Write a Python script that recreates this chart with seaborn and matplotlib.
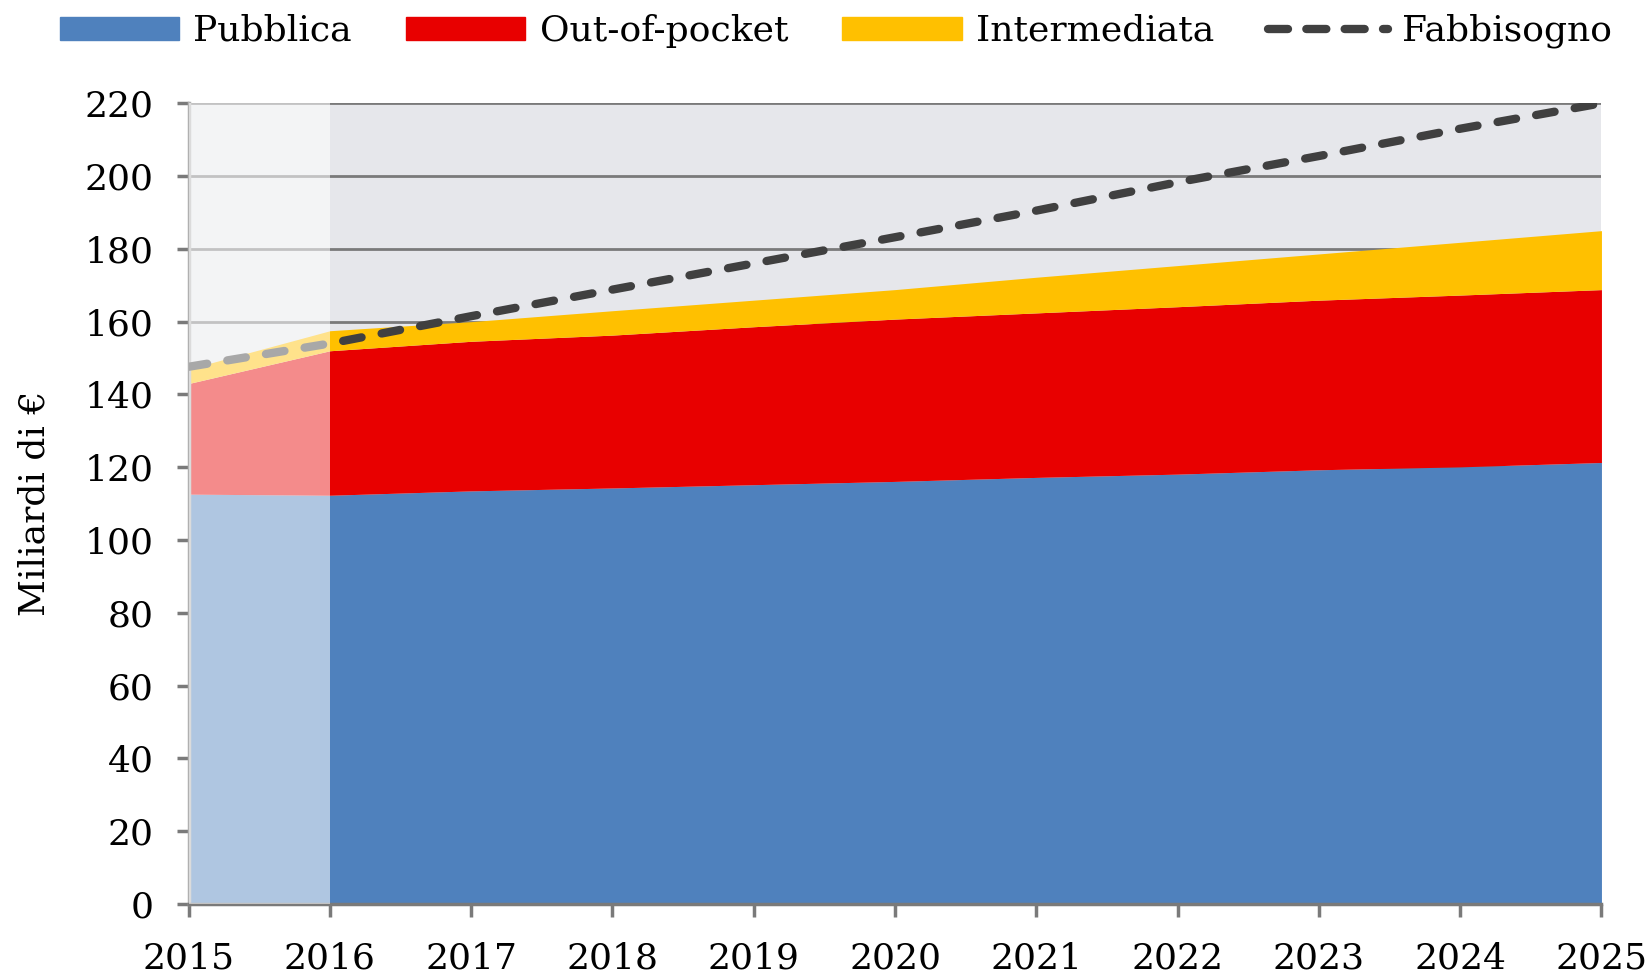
import numpy as np
import pandas as pd
import matplotlib
matplotlib.use("Agg")
import matplotlib.pyplot as plt
import seaborn as sns
from matplotlib.patches import Patch
from matplotlib.lines import Line2D

sns.set_style("white")
plt.rcParams["font.family"] = ["DejaVu Serif"]
plt.rcParams["text.color"] = "black"
plt.rcParams["axes.labelcolor"] = "black"

# Data (miliardi di euro)
years = [2015, 2016, 2017, 2018, 2019, 2020, 2021, 2022, 2023, 2024, 2025]
pubblica = [112.6, 112.3, 113.5, 114.3, 115.2, 116.1, 117.2, 118.1, 119.3, 120.1, 121.3]
out_of_pocket = [30.4, 39.7, 41.1, 42.0, 43.4, 44.6, 45.2, 46.0, 46.6, 47.2, 47.5]
intermediata = [4.0, 5.5, 5.4, 6.7, 7.3, 8.1, 9.8, 11.3, 12.7, 14.5, 16.2]
fabbisogno = [147.6, 154.0, 161.5, 168.8, 176.0, 183.2, 190.5, 198.3, 205.5, 213.0, 220.0]

df = pd.DataFrame({"anno": years, "Pubblica": pubblica, "Out-of-pocket": out_of_pocket,
                   "Intermediata": intermediata, "Fabbisogno": fabbisogno})

colors = {"Pubblica": "#4f81bd", "Out-of-pocket": "#e80000", "Intermediata": "#ffc000"}
line_color = "#404040"
grid_color = "#7a7a7a"

fig = plt.figure(figsize=(16.52, 9.76), dpi=100)
ax = fig.add_axes([0.1142, 0.0738, 0.9694 - 0.1142, 0.8942 - 0.0738])
ax.set_facecolor("#e6e7eb")

# stacked areas
base = np.zeros(len(df))
for col in ["Pubblica", "Out-of-pocket", "Intermediata"]:
    top = base + df[col].values
    ax.fill_between(df["anno"], base, top, color=colors[col], lw=0, zorder=2)
    base = top

sns.lineplot(data=df, x="anno", y="Fabbisogno", ax=ax, color=line_color, lw=6,
             dashes=False, zorder=3)
ln = ax.lines[-1]
ln.set_dashes((2.25, 2.45))
ln.set_dash_capstyle("round")

# historical years shaded
ax.axvspan(2015, 2016, color="white", alpha=0.55, lw=0, zorder=4)

ax.set_xlim(2015, 2025)
ax.set_ylim(0, 220)
ax.set_xticks(years)
ax.set_yticks(range(0, 221, 20))
ax.yaxis.grid(True, color=grid_color, lw=2)
ax.set_axisbelow(True)
for s in ["top", "right"]:
    ax.spines[s].set_visible(False)
ax.spines["left"].set_color("#b0b0b0")
ax.spines["left"].set_linewidth(2.5)
ax.spines["bottom"].set_color(grid_color)
ax.spines["bottom"].set_linewidth(2.5)
ax.tick_params(axis="both", which="major", bottom=True, left=True, length=9, width=2.5,
               color=grid_color, labelcolor="black", labelsize=26, direction="out")
ax.tick_params(axis="y", pad=16)
ax.tick_params(axis="x", pad=18)
ax.set_xlabel("")
ax.set_ylabel("Miliardi di €", fontsize=26)
ax.yaxis.set_label_coords(-0.097, 0.5)

handles = [Patch(color=colors["Pubblica"], label="Pubblica"),
           Patch(color=colors["Out-of-pocket"], label="Out-of-pocket"),
           Patch(color=colors["Intermediata"], label="Intermediata"),
           Line2D([0], [0], color=line_color, lw=6, dashes=(2.4, 2.2),
                  dash_capstyle="round", label="Fabbisogno")]
fig.legend(handles=handles, loc="center", bbox_to_anchor=(0.506, 0.968), ncol=4,
           frameon=False, fontsize=26, handlelength=3.3, handleheight=0.6,
           handletextpad=0.4, columnspacing=1.5)

fig.savefig("out.png", dpi=100)
